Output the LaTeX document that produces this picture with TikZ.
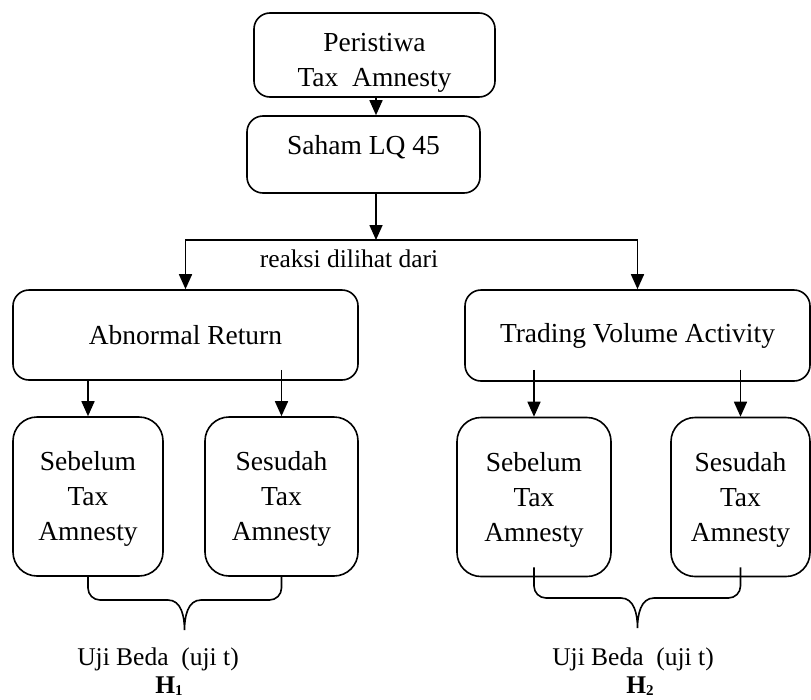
\documentclass[tikz,border=0pt]{standalone}
\usepackage{fontspec}
\setmainfont{Liberation Serif}
\usepackage{tikz}
\usetikzlibrary{positioning,arrows.meta}

\newcommand{\hsub}[2]{\textbf{#1}\raisebox{-2pt}{\fontsize{15}{15}\selectfont\textbf{#2}}}

\begin{document}
\begin{tikzpicture}[x=1pt,y=1pt,line width=1.6pt]
\tikzstyle{every node}+=[inner sep=0pt, align=center, font=\fontsize{27.5}{35}\selectfont]
\tikzstyle{bigbox}=[draw, rounded corners=16pt]
\tikzstyle{smallbox}=[draw, rounded corners=24pt, minimum height=159pt]
\tikzstyle{arr}=[-{Triangle[width=13pt,length=15pt]}]
\tikzstyle{lbl}=[font=\fontsize{25.5}{30}\selectfont]
\useasboundingbox (0,0) rectangle (811,-699);
% top chain
\node [bigbox, minimum width=241pt, minimum height=84pt] (event) at (374.5,-55) {\rule{0pt}{33pt}Peristiwa\\Tax\ \ Amnesty};
\node [bigbox, minimum width=233pt, minimum height=77pt] (lq45) at (363.5,-154.5) {Saham LQ 45\rule[-19pt]{0pt}{0pt}};
\coordinate (split) at (376,-240);
\draw [arr] (event.south -| split) -- (lq45.north -| split);
\draw [arr] (lq45.south -| split) -- (split);
\node [lbl, anchor=base west] (seen) at (259,-267) {reaksi dilihat dari};
% two measures
\node [bigbox, minimum width=345pt, minimum height=90pt] (ar) at (185.5,-335) {Abnormal Return};
\node [bigbox, minimum width=345pt, minimum height=91pt] (tva) at (637.5,-335.5) {Trading Volume Activity};
\draw [arr] (split) -| (ar.north);
\draw [arr] (split) -| (tva.north);
% before / after
\node [smallbox, minimum width=150pt] (s1) at (88,-496.5) {\rule{0pt}{24pt}Sebelum\\Tax\\Amnesty};
\node [smallbox, minimum width=153pt] (s2) at (281.5,-496.5) {\rule{0pt}{24pt}Sesudah\\Tax\\Amnesty};
\node [smallbox, minimum width=154pt] (s3) at (534,-497) {\rule{0pt}{24pt}Sebelum\\Tax\\Amnesty};
\node [smallbox, minimum width=139pt] (s4) at (740.5,-497) {\rule{0pt}{24pt}Sesudah\\Tax\\Amnesty};
\draw [arr] (ar.south -| s1.north) -- (s1.north);
\draw [arr] ([yshift=11pt]ar.south -| s2.north) -- (s2.north);
\draw [arr] ([yshift=12pt]tva.south -| s3.north) -- (s3.north);
\draw [arr] ([yshift=12pt]tva.south -| s4.north) -- (s4.north);
% braces
\draw (s1.south) -- (88,-588) to[out=-90,in=180] (100,-600) -- (168,-600)
  to[out=0,in=90] (184.5,-630) to[out=90,in=180] (201,-600) -- (269.5,-600)
  to[out=0,in=-90] (281.5,-588) -- (s2.south);
\draw ([yshift=10pt]s3.south) -- (534,-586) to[out=-90,in=180] (546,-598) -- (621,-598)
  to[out=0,in=90] (637.5,-628) to[out=90,in=180] (654,-598) -- (728.5,-598)
  to[out=0,in=-90] (740.5,-586) -- ([yshift=10pt]s4.south);
% tests
\node [lbl, anchor=base] (test1) at (158,-665) {Uji Beda\ \ (uji t)};
\node [lbl, anchor=base] (hyp1) at (169,-693) {\hsub{H}{1}};
\node [lbl, anchor=base] (test2) at (633,-665) {Uji Beda\ \ (uji t)};
\node [lbl, anchor=base] (hyp2) at (640,-693) {\hsub{H}{2}};
\end{tikzpicture}
\end{document}
